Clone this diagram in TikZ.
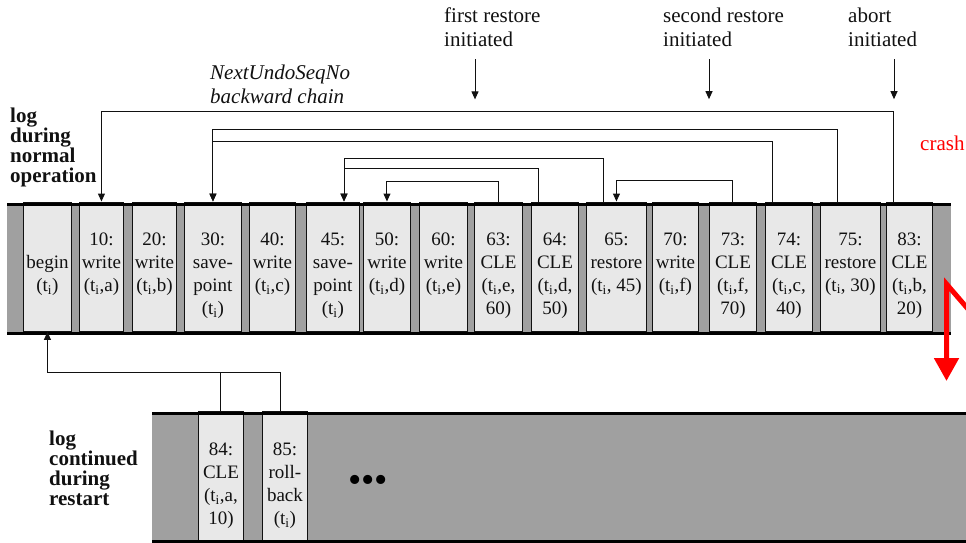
\documentclass[tikz,border=0pt]{standalone}
\usepackage{fontspec}
\setmainfont{Liberation Serif}
\usetikzlibrary{arrows.meta,positioning}
\definecolor{ink}{HTML}{111111}
\definecolor{band}{HTML}{A0A0A0}
\definecolor{cell}{HTML}{E8E8E8}
\definecolor{crash}{HTML}{FF0000}
\newcommand{\cellfont}{\fontsize{19}{23}\selectfont}
\newcommand{\notefont}{\fontsize{21}{24}\selectfont}
\newcommand{\headfont}{\fontsize{21}{20}\selectfont\bfseries}
\tikzset{
  rec/.style={draw=ink,fill=cell,line width=0.9pt,inner sep=0,anchor=north west,minimum height=129.5pt},
  celltext/.style={align=center,inner sep=0,text=ink},
  lab/.style={anchor=north west,inner sep=0,align=left,text=ink},
  chain/.style={ink,line width=1pt,-{Triangle[length=8pt,width=7pt]}},
  wire/.style={ink,line width=1pt},
  rail/.style={black,line width=3pt},
}

\begin{document}
\begin{tikzpicture}[x=1pt,y=-1pt,font=\cellfont]
\useasboundingbox (0,0) rectangle (966,543);
% log bands
\fill[band] (7,204) rectangle (951,333);
\fill[band] (152,413) rectangle (970,545);
% records, normal operation
\node[rec,minimum width=48pt] (r0) at (23,201.5) {};
\node[rec,minimum width=44pt] (r10) at (79,201.5) {};
\node[rec,minimum width=44pt] (r20) at (132,201.5) {};
\node[rec,minimum width=57pt] (r30) at (184,201.5) {};
\node[rec,minimum width=46pt] (r40) at (249,201.5) {};
\node[rec,minimum width=53pt] (r45) at (306,201.5) {};
\node[rec,minimum width=47pt] (r50) at (363,201.5) {};
\node[rec,minimum width=48pt] (r60) at (419,201.5) {};
\node[rec,minimum width=48pt] (r63) at (474,201.5) {};
\node[rec,minimum width=47pt] (r64) at (531,201.5) {};
\node[rec,minimum width=60pt] (r65) at (586,201.5) {};
\node[rec,minimum width=46pt] (r70) at (652,201.5) {};
\node[rec,minimum width=47pt] (r73) at (709,201.5) {};
\node[rec,minimum width=47pt] (r74) at (765,201.5) {};
\node[rec,minimum width=60pt] (r75) at (820,201.5) {};
\node[rec,minimum width=46pt] (r83) at (886,201.5) {};
% records, restart
\node[rec,minimum width=45pt,minimum height=131pt] (r84) at (198,411) {};
\node[rec,minimum width=45pt,minimum height=131pt] (r85) at (262,411) {};
% rails
\draw[rail] (7,204.5) -- (951,204.5);
\draw[rail] (7,333) -- (951,333);
\draw[rail] (152,413) -- (966,413);
\draw[rail] (152,541.5) -- (966,541.5);
% record texts
\node[celltext,below=54pt of r0.north] (t0) {begin\\(t\textsubscript{i})};
\node[celltext,below=31pt of r10.north] (t10) {10:\\write\\(t\textsubscript{i},a)};
\node[celltext,below=31pt of r20.north] (t20) {20:\\write\\(t\textsubscript{i},b)};
\node[celltext,below=31pt of r30.north] (t30) {30:\\save-\\point\\(t\textsubscript{i})};
\node[celltext,below=31pt of r40.north] (t40) {40:\\write\\(t\textsubscript{i},c)};
\node[celltext,below=31pt of r45.north] (t45) {45:\\save-\\point\\(t\textsubscript{i})};
\node[celltext,below=31pt of r50.north] (t50) {50:\\write\\(t\textsubscript{i},d)};
\node[celltext,below=31pt of r60.north] (t60) {60:\\write\\(t\textsubscript{i},e)};
\node[celltext,below=31pt of r63.north] (t63) {63:\\CLE\\(t\textsubscript{i},e,\\60)};
\node[celltext,below=31pt of r64.north] (t64) {64:\\CLE\\(t\textsubscript{i},d,\\50)};
\node[celltext,below=31pt of r65.north] (t65) {65:\\restore\\(t\textsubscript{i}, 45)};
\node[celltext,below=31pt of r70.north] (t70) {70:\\write\\(t\textsubscript{i},f)};
\node[celltext,below=31pt of r73.north] (t73) {73:\\CLE\\(t\textsubscript{i},f,\\70)};
\node[celltext,below=31pt of r74.north] (t74) {74:\\CLE\\(t\textsubscript{i},c,\\40)};
\node[celltext,below=31pt of r75.north] (t75) {75:\\restore\\(t\textsubscript{i}, 30)};
\node[celltext,below=31pt of r83.north] (t83) {83:\\CLE\\(t\textsubscript{i},b,\\20)};
\node[celltext,below=31.5pt of r84.north] (t84) {84:\\CLE\\(t\textsubscript{i},a,\\10)};
\node[celltext,below=31.5pt of r85.north] (t85) {85:\\roll-\\back\\(t\textsubscript{i})};
\node[inner sep=0,font=\fontsize{38}{38}\selectfont] (dots) at (368,484) {•••};
% labels
\node[lab,font=\headfont] (lnormal) at (10,107.5) {log\\during\\normal\\operation};
\node[lab,font=\headfont] (lrestart) at (49,431) {log\\continued\\during\\restart};
\node[lab,font=\notefont\itshape] (lchain) at (210,65) {NextUndoSeqNo\\backward chain};
\node[lab,font=\notefont] (lfirst) at (444,8) {first restore\\initiated};
\node[lab,font=\notefont] (lsecond) at (663,8) {second restore\\initiated};
\node[lab,font=\notefont] (labort) at (848,8) {abort\\initiated};
\node[anchor=base west,inner sep=0,font=\notefont,text=crash] (lcrash) at (920,150) {crash};
% events
\draw[chain] ([xshift=31pt,yshift=-12pt]lfirst.south west) -- ++(0,40);
\draw[chain] ([xshift=46pt,yshift=-12pt]lsecond.south west) -- ++(0,40);
\draw[chain] ([xshift=46pt,yshift=-12pt]labort.south west) -- ++(0,40);
% backward chain
\draw[chain] ([xshift=7pt]r83.north west) -- ++(0,-90) -| (r10.north);
\draw[chain] ([xshift=17pt]r75.north west) -- ++(0,-72) -| (r30.north);
\draw[chain] ([xshift=7pt]r74.north west) -- ++(0,-60) -| (r30.north);
\draw[chain] ([xshift=17pt]r65.north west) -- ++(0,-43.5) -| ([xshift=38pt]r45.north west);
\draw[chain] ([xshift=7pt]r64.north west) -- ++(0,-33.5) -| ([xshift=38pt]r45.north west);
\draw[chain] (r63.north) -- ++(0,-20) -| (r50.north);
\draw[chain] (r73.north) -- ++(0,-21.5) -| (r65.north);
\draw[chain] (r84.north) -- ++(0,-39) -| (r0.south);
\draw[wire] ([xshift=-4pt]r85.north) -- ++(0,-39) -| (r84.north);
% crash
\draw[crash,line width=5pt,-{Triangle[length=23pt,width=24pt]}] (974,316) -- (946.5,284) -- (946.5,381);
\end{tikzpicture}
\end{document}
